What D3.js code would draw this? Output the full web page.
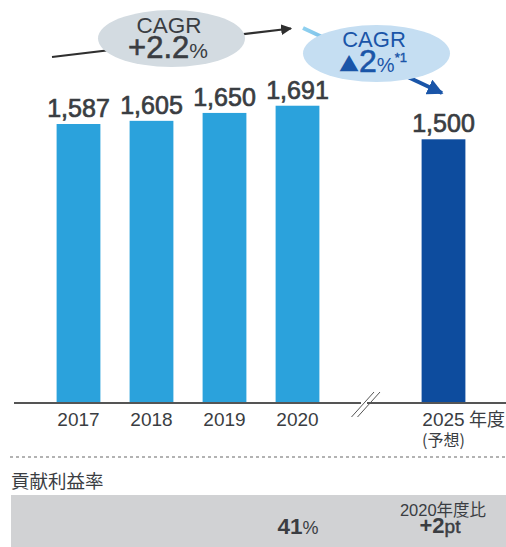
<!DOCTYPE html>
<html>
<head>
<meta charset="utf-8">
<script src="https://d3js.org/d3.v7.min.js"></script>
<style>
  body { margin: 0; background: #fff; }
  svg text { font-family: "Liberation Sans", Arial, "Noto Sans CJK JP", sans-serif; }
  .jp { font-family: "Noto Sans CJK JP", sans-serif !important; }
</style>
</head>
<body>
<div id="chart"></div>
<script>
// data
var years = ["2017", "2018", "2019", "2020", "gap", "2025"];
var values = [1587, 1605, 1650, 1691, null, 1500];
var barColors = ["#2ba2dc", "#2ba2dc", "#2ba2dc", "#2ba2dc", null, "#0d4c9e"];
var ratioLabel = "貢献利益率";
var ratioValue = "41";
var ratioDiff = "+2";

var width = 506, height = 547;
var textColor = "#3a3d42";
var svg = d3.select("#chart").append("svg")
    .attr("width", width)
    .attr("height", height);

var defs = svg.append("defs");
defs.append("marker").attr("id", "arrBlack")
    .attr("viewBox", "0 0 10 10").attr("refX", 9).attr("refY", 5)
    .attr("markerWidth", 5).attr("markerHeight", 5).attr("orient", "auto")
    .attr("markerUnits", "strokeWidth")
    .append("path").attr("d", "M0,0L10,5L0,10z").attr("fill", "#2f2f2f");
defs.append("marker").attr("id", "arrBlue")
    .attr("viewBox", "0 0 10 10").attr("refX", 9).attr("refY", 5)
    .attr("markerWidth", 4).attr("markerHeight", 4).attr("orient", "auto")
    .attr("markerUnits", "strokeWidth")
    .append("path").attr("d", "M0,0L10,5L0,10z").attr("fill", "#1a55a8");
var grad = defs.append("linearGradient").attr("id", "blueLine")
    .attr("gradientUnits", "userSpaceOnUse")
    .attr("x1", 303).attr("y1", 28).attr("x2", 442).attr("y2", 93);
grad.append("stop").attr("offset", "0%").attr("stop-color", "#8fd1f0");
grad.append("stop").attr("offset", "50%").attr("stop-color", "#5aa0da");
grad.append("stop").attr("offset", "70%").attr("stop-color", "#1a55a8");
grad.append("stop").attr("offset", "100%").attr("stop-color", "#1a55a8");

// scales
var x = d3.scaleBand().domain(years).range([42, 480]).paddingInner(0.4).paddingOuter(0.2);
var y = d3.scaleLinear().domain([0, 1700]).range([403, 403 - 1700 * 0.1758]);

// bars
var bars = years.map(function(d, i) { return { year: d, value: values[i], color: barColors[i] }; })
    .filter(function(d) { return d.value != null; });

svg.append("g").selectAll("rect").data(bars).enter().append("rect")
    .attr("x", function(d) { return x(d.year); })
    .attr("y", function(d) { return y(d.value); })
    .attr("width", x.bandwidth())
    .attr("height", function(d) { return y(0) - y(d.value); })
    .attr("fill", function(d) { return d.color; });

svg.append("g").selectAll("text").data(bars).enter().append("text")
    .attr("x", function(d) { return x(d.year) + x.bandwidth() / 2; })
    .attr("y", function(d) { return y(d.value) - 7; })
    .attr("text-anchor", "middle")
    .attr("font-size", 25).attr("fill", textColor)
    .attr("stroke", textColor).attr("stroke-width", 0.7)
    .text(function(d) { return d3.format(",")(d.value); });

// axis line with break
var axisY = y(0);
svg.append("line").attr("x1", 14).attr("x2", 361).attr("y1", axisY).attr("y2", axisY)
    .attr("stroke", "#555").attr("stroke-width", 2);
svg.append("line").attr("x1", 367).attr("x2", 506).attr("y1", axisY).attr("y2", axisY)
    .attr("stroke", "#555").attr("stroke-width", 2);
[0, 6].forEach(function(dx) {
  svg.append("line").attr("x1", 351.5 + dx).attr("y1", 417).attr("x2", 374 + dx).attr("y2", 392)
      .attr("stroke", "#555").attr("stroke-width", 1);
});

// x labels
svg.append("g").selectAll("text").data(bars).enter().append("text")
    .attr("x", function(d) { return x(d.year) + x.bandwidth() / 2; })
    .attr("y", 426)
    .attr("text-anchor", "middle")
    .attr("font-size", 19).attr("fill", textColor)
    .text(function(d) { return d.year; });
svg.append("text").attr("class", "jp").attr("x", 469).attr("y", 426)
    .attr("font-size", 18).attr("fill", textColor)
    .text("年度");
svg.append("text").attr("class", "jp").attr("x", x("2025") + x.bandwidth() / 2).attr("y", 446)
    .attr("text-anchor", "middle")
    .attr("font-size", 16).attr("fill", textColor)
    .text("(予想)");

// CAGR arrows
svg.append("line").attr("x1", 52).attr("y1", 57).attr("x2", 291).attr("y2", 28.5)
    .attr("stroke", "#2f2f2f").attr("stroke-width", 2.2)
    .attr("marker-end", "url(#arrBlack)");
svg.append("line").attr("x1", 303).attr("y1", 28).attr("x2", 442).attr("y2", 93)
    .attr("stroke", "url(#blueLine)").attr("stroke-width", 4)
    .attr("marker-end", "url(#arrBlue)");

// grey bubble
svg.append("ellipse").attr("cx", 171.5).attr("cy", 38.5).attr("rx", 73.5).attr("ry", 28.5)
    .attr("fill", "#d3dbe1");
var t1 = svg.append("text").attr("text-anchor", "middle").attr("fill", textColor);
t1.append("tspan").attr("x", 169).attr("y", 33).attr("font-size", 22.5).text("CAGR");
t1.append("tspan").attr("x", 168).attr("y", 58).attr("font-size", 31)
    .attr("stroke", textColor).attr("stroke-width", 0.6).text("+2.2")
  .append("tspan").attr("font-size", 21).attr("stroke-width", 0).text("%");

// blue bubble
svg.append("ellipse").attr("cx", 376.5).attr("cy", 53.5).attr("rx", 73.5).attr("ry", 28.5)
    .attr("fill", "#c5def2");
var t2 = svg.append("text").attr("text-anchor", "middle").attr("fill", "#1a55a8");
t2.append("tspan").attr("x", 374).attr("y", 47).attr("font-size", 22).text("CAGR");
t2.append("tspan").attr("x", 373).attr("y", 72).attr("font-size", 20).attr("class", "jp").text("▲")
  .append("tspan").attr("font-size", 32).attr("stroke", "#1a55a8").attr("stroke-width", 0.6)
    .style("font-family", "'Liberation Sans'").text("2")
  .append("tspan").attr("font-size", 20).attr("stroke-width", 0).text("%")
  .append("tspan").attr("font-size", 13).attr("dy", -10).attr("stroke", "#1a55a8")
    .attr("stroke-width", 0.4).text("*1");

// bottom section
svg.append("line").attr("x1", 10).attr("x2", 506).attr("y1", 457).attr("y2", 457)
    .attr("stroke", "#9a9a9a").attr("stroke-width", 1.5).attr("stroke-dasharray", "3,3");
svg.append("text").attr("class", "jp").attr("x", 11).attr("y", 488)
    .attr("font-size", 18.5).attr("fill", textColor)
    .text(ratioLabel);
svg.append("rect").attr("x", 11).attr("y", 495).attr("width", 495).attr("height", 52)
    .attr("fill", "#d1d2d4");
var t3 = svg.append("text").attr("x", 298).attr("y", 534).attr("text-anchor", "middle")
    .attr("fill", textColor);
t3.append("tspan").attr("font-size", 22.5).attr("font-weight", 700).text(ratioValue);
t3.append("tspan").attr("font-size", 18).text("%");
var t4 = svg.append("text").attr("text-anchor", "middle").attr("fill", textColor);
t4.append("tspan").attr("x", 443).attr("y", 516).attr("font-size", 16.5).text("2020年度比");
t4.append("tspan").attr("x", 440).attr("y", 533).attr("font-size", 22).attr("font-weight", 700).text(ratioDiff)
  .append("tspan").attr("font-size", 19).attr("font-weight", 400)
    .attr("stroke", textColor).attr("stroke-width", 0.5).text("pt");
</script>
</body>
</html>
